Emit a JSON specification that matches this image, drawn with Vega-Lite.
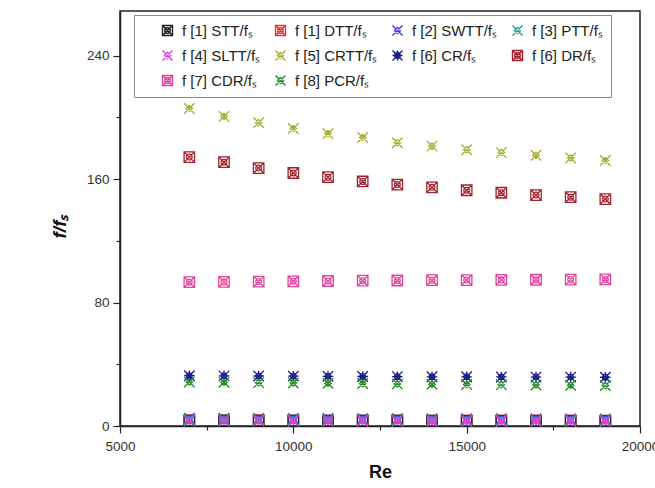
{
  "$schema": "https://vega.github.io/schema/vega-lite/v6.json",
  "width": 520,
  "height": 415,
  "autosize": {"type": "none"},
  "padding": {"left": 120, "top": 11, "right": 15, "bottom": 62},
  "background": "white",
  "config": {
    "font": "Liberation Sans",
    "view": {"stroke": "#222", "strokeWidth": 1.5},
    "axis": {"grid": false, "domainColor": "#222", "domainWidth": 1.5, "tickColor": "#222", "tickWidth": 1.2, "labelColor": "#333", "labelFontSize": 13.5, "labelFont": "Liberation Sans"}
  },
  "data": {"values": [
    {"series":"f [1] STT/fₛ","Re":7000,"ratio":3.5},{"series":"f [1] STT/fₛ","Re":8000,"ratio":3.5},{"series":"f [1] STT/fₛ","Re":9000,"ratio":3.5},{"series":"f [1] STT/fₛ","Re":10000,"ratio":3.4},{"series":"f [1] STT/fₛ","Re":11000,"ratio":3.4},{"series":"f [1] STT/fₛ","Re":12000,"ratio":3.4},{"series":"f [1] STT/fₛ","Re":13000,"ratio":3.4},{"series":"f [1] STT/fₛ","Re":14000,"ratio":3.3},{"series":"f [1] STT/fₛ","Re":15000,"ratio":3.3},{"series":"f [1] STT/fₛ","Re":16000,"ratio":3.3},{"series":"f [1] STT/fₛ","Re":17000,"ratio":3.3},{"series":"f [1] STT/fₛ","Re":18000,"ratio":3.3},{"series":"f [1] STT/fₛ","Re":19000,"ratio":3.2},
    {"series":"f [1] DTT/fₛ","Re":7000,"ratio":3.8},{"series":"f [1] DTT/fₛ","Re":8000,"ratio":3.8},{"series":"f [1] DTT/fₛ","Re":9000,"ratio":3.8},{"series":"f [1] DTT/fₛ","Re":10000,"ratio":3.7},{"series":"f [1] DTT/fₛ","Re":11000,"ratio":3.7},{"series":"f [1] DTT/fₛ","Re":12000,"ratio":3.7},{"series":"f [1] DTT/fₛ","Re":13000,"ratio":3.7},{"series":"f [1] DTT/fₛ","Re":14000,"ratio":3.6},{"series":"f [1] DTT/fₛ","Re":15000,"ratio":3.6},{"series":"f [1] DTT/fₛ","Re":16000,"ratio":3.6},{"series":"f [1] DTT/fₛ","Re":17000,"ratio":3.6},{"series":"f [1] DTT/fₛ","Re":18000,"ratio":3.6},{"series":"f [1] DTT/fₛ","Re":19000,"ratio":3.5},
    {"series":"f [2] SWTT/fₛ","Re":7000,"ratio":5.0},{"series":"f [2] SWTT/fₛ","Re":8000,"ratio":5.0},{"series":"f [2] SWTT/fₛ","Re":9000,"ratio":4.9},{"series":"f [2] SWTT/fₛ","Re":10000,"ratio":4.9},{"series":"f [2] SWTT/fₛ","Re":11000,"ratio":4.9},{"series":"f [2] SWTT/fₛ","Re":12000,"ratio":4.8},{"series":"f [2] SWTT/fₛ","Re":13000,"ratio":4.8},{"series":"f [2] SWTT/fₛ","Re":14000,"ratio":4.8},{"series":"f [2] SWTT/fₛ","Re":15000,"ratio":4.7},{"series":"f [2] SWTT/fₛ","Re":16000,"ratio":4.7},{"series":"f [2] SWTT/fₛ","Re":17000,"ratio":4.7},{"series":"f [2] SWTT/fₛ","Re":18000,"ratio":4.6},{"series":"f [2] SWTT/fₛ","Re":19000,"ratio":4.6},
    {"series":"f [3] PTT/fₛ","Re":7000,"ratio":4.2},{"series":"f [3] PTT/fₛ","Re":8000,"ratio":4.2},{"series":"f [3] PTT/fₛ","Re":9000,"ratio":4.2},{"series":"f [3] PTT/fₛ","Re":10000,"ratio":4.1},{"series":"f [3] PTT/fₛ","Re":11000,"ratio":4.1},{"series":"f [3] PTT/fₛ","Re":12000,"ratio":4.1},{"series":"f [3] PTT/fₛ","Re":13000,"ratio":4.0},{"series":"f [3] PTT/fₛ","Re":14000,"ratio":4.0},{"series":"f [3] PTT/fₛ","Re":15000,"ratio":4.0},{"series":"f [3] PTT/fₛ","Re":16000,"ratio":3.9},{"series":"f [3] PTT/fₛ","Re":17000,"ratio":3.9},{"series":"f [3] PTT/fₛ","Re":18000,"ratio":3.9},{"series":"f [3] PTT/fₛ","Re":19000,"ratio":3.9},
    {"series":"f [4] SLTT/fₛ","Re":7000,"ratio":3.3},{"series":"f [4] SLTT/fₛ","Re":8000,"ratio":3.3},{"series":"f [4] SLTT/fₛ","Re":9000,"ratio":3.3},{"series":"f [4] SLTT/fₛ","Re":10000,"ratio":3.2},{"series":"f [4] SLTT/fₛ","Re":11000,"ratio":3.2},{"series":"f [4] SLTT/fₛ","Re":12000,"ratio":3.2},{"series":"f [4] SLTT/fₛ","Re":13000,"ratio":3.2},{"series":"f [4] SLTT/fₛ","Re":14000,"ratio":3.1},{"series":"f [4] SLTT/fₛ","Re":15000,"ratio":3.1},{"series":"f [4] SLTT/fₛ","Re":16000,"ratio":3.1},{"series":"f [4] SLTT/fₛ","Re":17000,"ratio":3.1},{"series":"f [4] SLTT/fₛ","Re":18000,"ratio":3.0},{"series":"f [4] SLTT/fₛ","Re":19000,"ratio":3.0},
    {"series":"f [5] CRTT/fₛ","Re":7000,"ratio":205.8},{"series":"f [5] CRTT/fₛ","Re":8000,"ratio":200.7},{"series":"f [5] CRTT/fₛ","Re":9000,"ratio":196.6},{"series":"f [5] CRTT/fₛ","Re":10000,"ratio":192.8},{"series":"f [5] CRTT/fₛ","Re":11000,"ratio":189.6},{"series":"f [5] CRTT/fₛ","Re":12000,"ratio":187.0},{"series":"f [5] CRTT/fₛ","Re":13000,"ratio":183.6},{"series":"f [5] CRTT/fₛ","Re":14000,"ratio":181.4},{"series":"f [5] CRTT/fₛ","Re":15000,"ratio":179.1},{"series":"f [5] CRTT/fₛ","Re":16000,"ratio":177.2},{"series":"f [5] CRTT/fₛ","Re":17000,"ratio":175.5},{"series":"f [5] CRTT/fₛ","Re":18000,"ratio":173.7},{"series":"f [5] CRTT/fₛ","Re":19000,"ratio":172.1},
    {"series":"f [6] CR/fₛ","Re":7000,"ratio":32.6},{"series":"f [6] CR/fₛ","Re":8000,"ratio":32.5},{"series":"f [6] CR/fₛ","Re":9000,"ratio":32.4},{"series":"f [6] CR/fₛ","Re":10000,"ratio":32.3},{"series":"f [6] CR/fₛ","Re":11000,"ratio":32.2},{"series":"f [6] CR/fₛ","Re":12000,"ratio":32.1},{"series":"f [6] CR/fₛ","Re":13000,"ratio":32.0},{"series":"f [6] CR/fₛ","Re":14000,"ratio":31.9},{"series":"f [6] CR/fₛ","Re":15000,"ratio":31.9},{"series":"f [6] CR/fₛ","Re":16000,"ratio":31.8},{"series":"f [6] CR/fₛ","Re":17000,"ratio":31.7},{"series":"f [6] CR/fₛ","Re":18000,"ratio":31.7},{"series":"f [6] CR/fₛ","Re":19000,"ratio":31.6},
    {"series":"f [6] DR/fₛ","Re":7000,"ratio":174.3},{"series":"f [6] DR/fₛ","Re":8000,"ratio":171.0},{"series":"f [6] DR/fₛ","Re":9000,"ratio":167.2},{"series":"f [6] DR/fₛ","Re":10000,"ratio":164.0},{"series":"f [6] DR/fₛ","Re":11000,"ratio":161.3},{"series":"f [6] DR/fₛ","Re":12000,"ratio":158.5},{"series":"f [6] DR/fₛ","Re":13000,"ratio":156.5},{"series":"f [6] DR/fₛ","Re":14000,"ratio":154.7},{"series":"f [6] DR/fₛ","Re":15000,"ratio":152.8},{"series":"f [6] DR/fₛ","Re":16000,"ratio":151.2},{"series":"f [6] DR/fₛ","Re":17000,"ratio":149.7},{"series":"f [6] DR/fₛ","Re":18000,"ratio":148.3},{"series":"f [6] DR/fₛ","Re":19000,"ratio":147.1},
    {"series":"f [7] CDR/fₛ","Re":7000,"ratio":93.2},{"series":"f [7] CDR/fₛ","Re":8000,"ratio":93.4},{"series":"f [7] CDR/fₛ","Re":9000,"ratio":93.6},{"series":"f [7] CDR/fₛ","Re":10000,"ratio":93.8},{"series":"f [7] CDR/fₛ","Re":11000,"ratio":94.0},{"series":"f [7] CDR/fₛ","Re":12000,"ratio":94.2},{"series":"f [7] CDR/fₛ","Re":13000,"ratio":94.3},{"series":"f [7] CDR/fₛ","Re":14000,"ratio":94.5},{"series":"f [7] CDR/fₛ","Re":15000,"ratio":94.6},{"series":"f [7] CDR/fₛ","Re":16000,"ratio":94.7},{"series":"f [7] CDR/fₛ","Re":17000,"ratio":94.8},{"series":"f [7] CDR/fₛ","Re":18000,"ratio":94.9},{"series":"f [7] CDR/fₛ","Re":19000,"ratio":95.0},
    {"series":"f [8] PCR/fₛ","Re":7000,"ratio":28.5},{"series":"f [8] PCR/fₛ","Re":8000,"ratio":28.3},{"series":"f [8] PCR/fₛ","Re":9000,"ratio":28.1},{"series":"f [8] PCR/fₛ","Re":10000,"ratio":27.9},{"series":"f [8] PCR/fₛ","Re":11000,"ratio":27.7},{"series":"f [8] PCR/fₛ","Re":12000,"ratio":27.5},{"series":"f [8] PCR/fₛ","Re":13000,"ratio":27.3},{"series":"f [8] PCR/fₛ","Re":14000,"ratio":27.1},{"series":"f [8] PCR/fₛ","Re":15000,"ratio":26.9},{"series":"f [8] PCR/fₛ","Re":16000,"ratio":26.8},{"series":"f [8] PCR/fₛ","Re":17000,"ratio":26.6},{"series":"f [8] PCR/fₛ","Re":18000,"ratio":26.4},{"series":"f [8] PCR/fₛ","Re":19000,"ratio":26.2}
  ]},
  "mark": {"type": "point", "filled": false, "strokeWidth": 1.3, "size": 110, "opacity": 1},
  "encoding": {
    "x": {
      "field": "Re", "type": "quantitative",
      "scale": {"domain": [5000, 20000], "nice": false, "zero": false},
      "axis": {
        "title": "Re", "titleFontSize": 18, "titleFontWeight": "bold", "titleColor": "#111", "titlePadding": 11,
        "values": [5000, 7500, 10000, 12500, 15000, 17500, 20000],
        "labelExpr": "datum.value % 5000 === 0 ? datum.label : ''",
        "format": "d",
        "tickSize": {"condition": {"test": "datum.value % 5000 === 0", "value": 7}, "value": 4},
        "labelPadding": 6, "labelFlush": false
      }
    },
    "y": {
      "field": "ratio", "type": "quantitative",
      "scale": {"domain": [0, 269], "nice": false},
      "axis": {
        "title": "f/fₛ", "titleFontSize": 19, "titleFontWeight": "bold", "titleFontStyle": "italic", "titleColor": "#111",
        "titleX": -51, "titleY": 215,
        "values": [0, 40, 80, 120, 160, 200, 240],
        "labelExpr": "datum.value % 80 === 0 ? datum.label : ''",
        "tickSize": {"condition": {"test": "datum.value % 80 === 0", "value": 7}, "value": 4},
        "labelPadding": 4
      }
    },
    "color": {
      "field": "series", "type": "nominal",
      "scale": {
        "domain": ["f [1] STT/fₛ", "f [1] DTT/fₛ", "f [2] SWTT/fₛ", "f [3] PTT/fₛ", "f [4] SLTT/fₛ", "f [5] CRTT/fₛ", "f [6] CR/fₛ", "f [6] DR/fₛ", "f [7] CDR/fₛ", "f [8] PCR/fₛ"],
        "range": ["#222222", "#e03a3a", "#3a3ae0", "#2e9e96", "#e040e0", "#a6ad2c", "#1c1c8a", "#a3222e", "#e0449c", "#1e8c1e"]
      },
      "legend": {
        "title": " ", "titleOrient": "left", "titleFontSize": 15, "titlePadding": 18,
        "orient": "none", "legendX": 14, "legendY": 4, "direction": "horizontal", "columns": 4, "gridAlign": "none",
        "strokeColor": "#888", "padding": 8, "labelFontSize": 15, "labelColor": "#222", "labelLimit": 250, "labelOffset": 7,
        "symbolSize": 100, "symbolStrokeWidth": 1.4, "columnPadding": 11, "rowPadding": 8, "fillColor": "white"
      }
    },
    "shape": {
      "field": "series", "type": "nominal",
      "scale": {
        "domain": ["f [1] STT/fₛ", "f [1] DTT/fₛ", "f [2] SWTT/fₛ", "f [3] PTT/fₛ", "f [4] SLTT/fₛ", "f [5] CRTT/fₛ", "f [6] CR/fₛ", "f [6] DR/fₛ", "f [7] CDR/fₛ", "f [8] PCR/fₛ"],
        "range": [
          "M-1,-1H1V1H-1ZM-1,-1L1,1M1,-1L-1,1M0.55,0A0.55,0.55 0 1,1 -0.55,0A0.55,0.55 0 1,1 0.55,0",
          "M-1,-1H1V1H-1ZM-1,-1L1,1M1,-1L-1,1M0.55,0A0.55,0.55 0 1,1 -0.55,0A0.55,0.55 0 1,1 0.55,0",
          "M-1,-1L1,1M1,-1L-1,1M0,-0.6L0.6,0L0,0.6L-0.6,0Z",
          "M-1,-1L1,1M1,-1L-1,1M0,-0.6L0.6,0L0,0.6L-0.6,0Z",
          "M-1,-1L1,1M1,-1L-1,1M0,-0.6L0.6,0L0,0.6L-0.6,0Z",
          "M-1,-1L1,1M1,-1L-1,1M0,-0.6L0.6,0L0,0.6L-0.6,0Z",
          "M-1,-1L1,1M1,-1L-1,1M-1,0H1M0,-1V1M0.55,0A0.55,0.55 0 1,1 -0.55,0A0.55,0.55 0 1,1 0.55,0",
          "M-1,-1H1V1H-1ZM-1,-1L1,1M1,-1L-1,1M0.55,0A0.55,0.55 0 1,1 -0.55,0A0.55,0.55 0 1,1 0.55,0",
          "M-1,-1H1V1H-1ZM-1,-1L1,1M1,-1L-1,1M0.55,0A0.55,0.55 0 1,1 -0.55,0A0.55,0.55 0 1,1 0.55,0",
          "M-1,-1L1,1M1,-1L-1,1M0,-0.6L0.6,0L0,0.6L-0.6,0Z"
        ]
      }
    },
    "order": {"field": "series", "sort": "ascending"}
  }
}
